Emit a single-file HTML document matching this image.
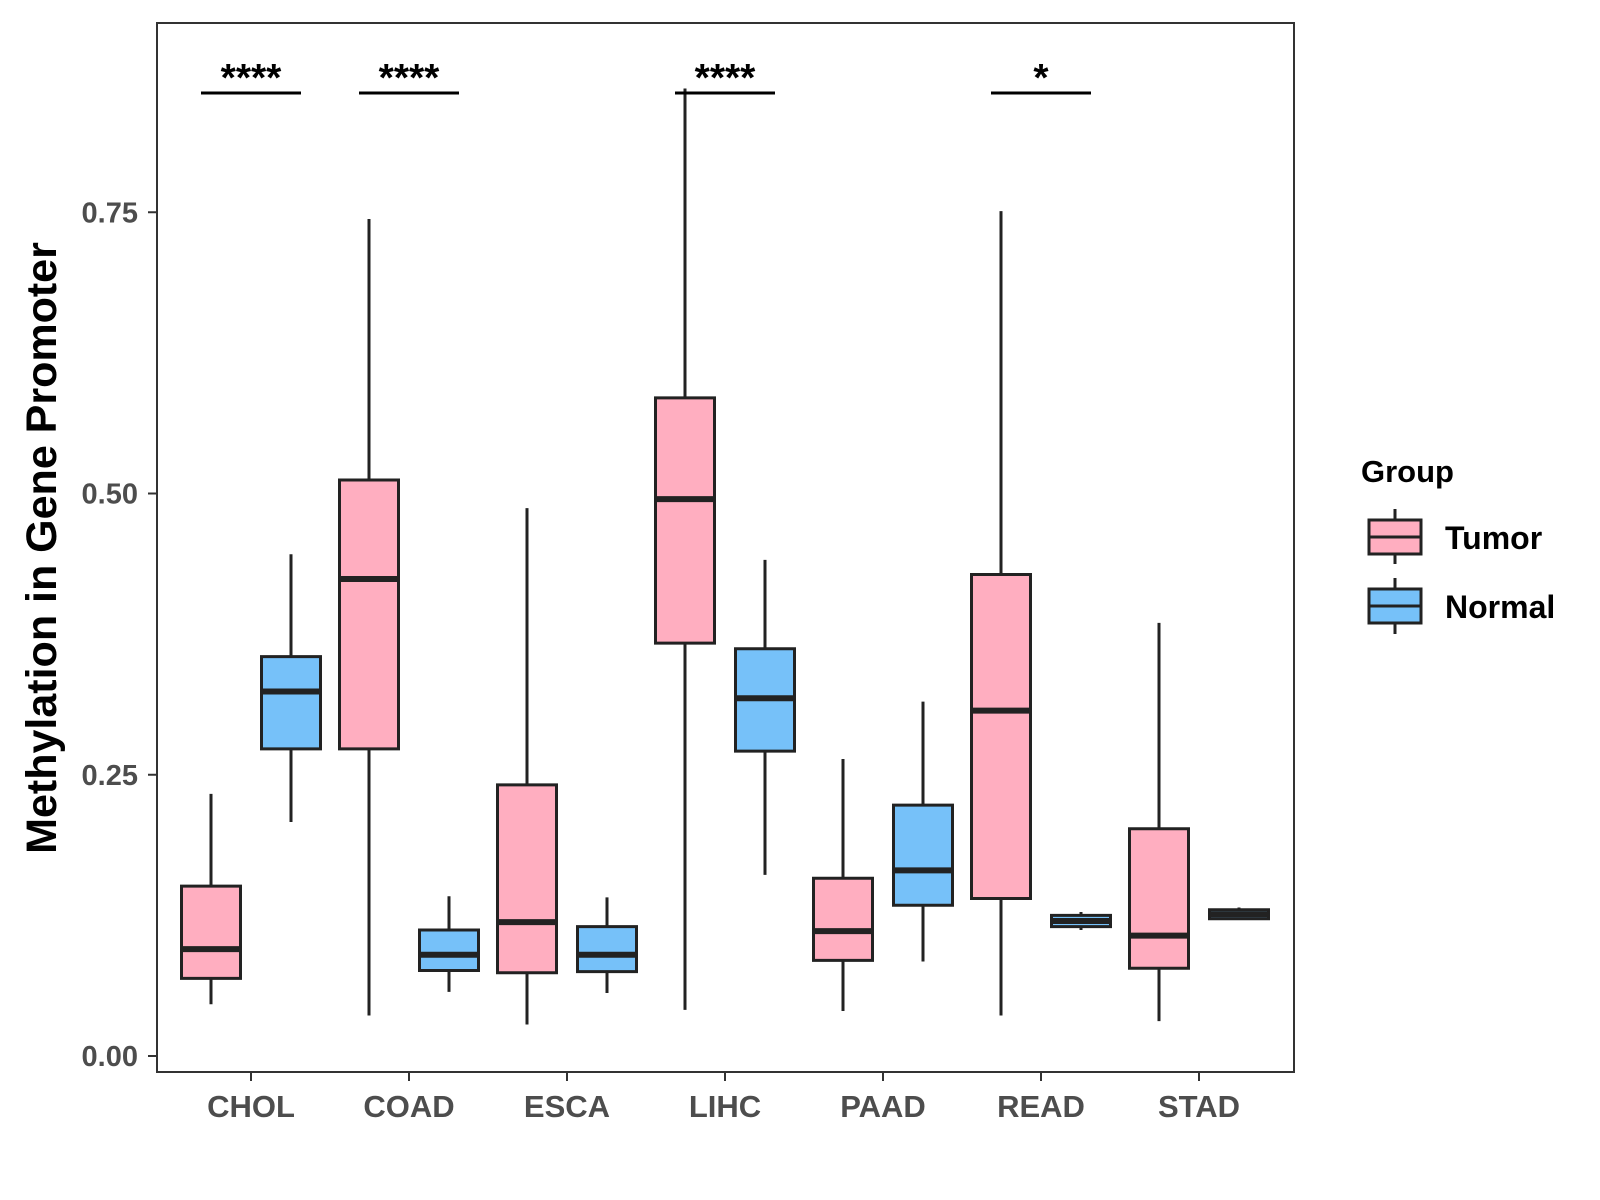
<!DOCTYPE html>
<html><head><meta charset="utf-8"><style>body{margin:0;background:#fff}svg{display:block;font-family:"Liberation Sans",sans-serif}</style></head>
<body>
<svg id="chart" width="1600" height="1200">
<rect x="157" y="23" width="1137" height="1049" fill="none" stroke="#333" stroke-width="2"/>
<g id="marks"></g>
<text transform="translate(56,548) rotate(-90)" text-anchor="middle" font-size="43" font-weight="bold" fill="#000">Methylation in Gene Promoter</text>
<g>
<text x="1361" y="482" font-size="31" font-weight="bold">Group</text>
<g>
<line x1="1395" y1="509" x2="1395" y2="564" stroke="#222" stroke-width="3"/>
<rect x="1369" y="520" width="52" height="34" fill="#FFAEC0" stroke="#222" stroke-width="3"/>
<line x1="1369" y1="537" x2="1421" y2="537" stroke="#222" stroke-width="3"/>
<text x="1445" y="549" font-size="32" font-weight="bold">Tumor</text></g>
<g>
<line x1="1395" y1="578" x2="1395" y2="634" stroke="#222" stroke-width="3"/>
<rect x="1369" y="589" width="52" height="34" fill="#76C1F9" stroke="#222" stroke-width="3"/>
<line x1="1369" y1="606" x2="1421" y2="606" stroke="#222" stroke-width="3"/>
<text x="1445" y="618" font-size="32" font-weight="bold">Normal</text></g>
</g>
</svg>
<script>
const categories=["CHOL","COAD","ESCA","LIHC","PAAD","READ","STAD"];
// [low, q1, median, q3, high]
const tumorStats=[[0.046,0.069,0.095,0.151,0.233],[0.036,0.273,0.424,0.512,0.744],[0.028,0.074,0.119,0.241,0.487],[0.041,0.367,0.495,0.585,0.860],[0.040,0.085,0.111,0.158,0.264],[0.036,0.140,0.307,0.428,0.751],[0.031,0.078,0.107,0.202,0.385]];
const normalStats=[[0.208,0.273,0.324,0.355,0.446],[0.057,0.076,0.090,0.112,0.142],[0.056,0.075,0.090,0.115,0.141],[0.161,0.271,0.318,0.362,0.441],[0.084,0.134,0.165,0.223,0.315],[0.112,0.115,0.120,0.125,0.128],[0.121,0.122,0.126,0.130,0.132]];
const yTicks=[0,0.25,0.5,0.75];
const yTickLabels=["0.00","0.25","0.50","0.75"];
const signifLabels=["****","****","","****","","*",""];
const NS="http://www.w3.org/2000/svg";
const g=document.getElementById('marks');
const y=v=>1056-v*1125;
const x=i=>251+i*158;
function el(t,a,p){const e=document.createElementNS(NS,t);for(const k in a)e.setAttribute(k,a[k]);(p||g).appendChild(e);return e;}
yTicks.forEach((t,i)=>{
 const l=el('line',{x1:148,x2:157,y1:y(t),y2:y(t),stroke:'#333','stroke-width':2});
 
 
 const tx=el('text',{x:138,y:y(t)+10,'text-anchor':'end','font-size':29,'font-weight':'bold',fill:'#4d4d4d'});
 tx.textContent=yTickLabels[i];
 
 
});
function box(cx,s,fill,name){
 const w=59,grp=el('g',{});
 
 
 el('line',{x1:cx,x2:cx,y1:y(s[4]),y2:y(s[0]),stroke:'#222','stroke-width':3},grp);
 el('rect',{x:cx-w/2,y:y(s[3]),width:w,height:Math.max(y(s[1])-y(s[3]),1),fill:fill,stroke:'#222','stroke-width':3},grp);
 el('line',{x1:cx-w/2,x2:cx+w/2,y1:y(s[2]),y2:y(s[2]),stroke:'#222','stroke-width':6},grp);
}
categories.forEach((c,i)=>{
 box(x(i)-40,tumorStats[i],'#FFAEC0','box-tumor-'+c.toLowerCase());
 box(x(i)+40,normalStats[i],'#76C1F9','box-normal-'+c.toLowerCase());
 const tk=el('line',{x1:x(i),x2:x(i),y1:1072,y2:1081,stroke:'#333','stroke-width':2});
 
 
 const t=el('text',{x:x(i),y:1117,'text-anchor':'middle','font-size':31,'font-weight':'bold',fill:'#4d4d4d'});
 t.textContent=c;
 
 
 if(signifLabels[i]){
  const b=el('line',{x1:x(i)-50,x2:x(i)+50,y1:93,y2:93,stroke:'#000','stroke-width':3});
  
  
  const s=el('text',{x:x(i),y:91,'text-anchor':'middle','font-size':39,'font-weight':'bold',fill:'#000'});
  s.textContent=signifLabels[i];
  
  
 }
});
</script>
</body></html>
